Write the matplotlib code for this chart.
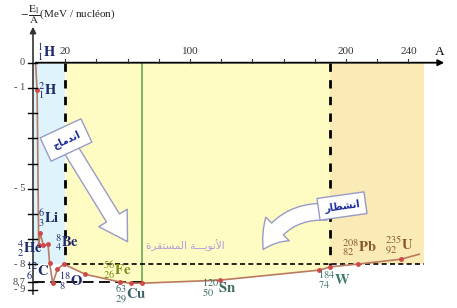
import numpy as np
import matplotlib
matplotlib.use("Agg")
import matplotlib.pyplot as plt
from matplotlib.patches import FancyArrowPatch

plt.rcParams['font.family'] = ['Liberation Serif', 'DejaVu Serif', 'DejaVu Sans']
plt.rcParams['mathtext.fontset'] = 'stix'

# ---- data ----
mass_number = np.array([1, 2, 3, 4, 6, 9, 10, 12, 15, 19, 33, 55, 62, 69, 119, 183, 190, 208, 235, 247])
binding_neg = np.array([0, -1.1, -7.25, -6.77, -7.25, -7.2, -7.95, -8.75, -8.2, -7.99,
                        -8.4, -8.7, -8.75, -8.75, -8.63, -8.23, -8.1, -7.99, -7.8, -7.6])
x_tick_marks = [20, 40, 60, 80, 100, 120, 140, 160, 180, 200, 220, 240]
x_tick_labels = {20: "20", 100: "100", 200: "200", 240: "240"}
y_tick_marks = [0, -1, -2, -3, -4, -5, -6, -7, -8, -8.7, -9]
y_tick_labels = {0: "0", -1: "- 1", -5: "- 5", -8: "- 8", -8.7: "8,7", -9: "- 9"}
nuclides = [  # (mass, charge, symbol)
    (1, 1, "H"), (2, 1, "H"), (6, 3, "Li"), (4, 2, "He"), (8, 4, "Be"), (12, 6, "C"),
    (18, 8, "O"), (56, 26, "Fe"), (63, 29, "Cu"), (120, 50, "Sn"), (184, 74, "W"),
    (208, 82, "Pb"), (235, 92, "U"),
]

W, H = 457, 308
fig = plt.figure(figsize=(W / 100, H / 100), dpi=100)
ax = fig.add_axes([0, 0, 1, 1])
X0, SX = 34.0, 1.56
Y0, SY = 62.7, 25.2
ax.set_xlim(-X0 / SX, (W - X0) / SX)
ax.set_ylim((Y0 - H) / SY, Y0 / SY)
ax.axis('off')


def P(px, py):
    return (px - X0) / SX, (Y0 - py) / SY


# ---- background regions ----
ax.fill_between([0, 20], 0, -8, color='#def3fb', lw=0, zorder=0)
xs = np.concatenate([[20], mass_number[(mass_number > 20) & (mass_number < 190)], [190]])
ys = np.interp(xs, mass_number, binding_neg)
ax.fill_between(xs, 0, ys, color='#fefcc2', lw=0, zorder=0)
ax.fill_between([190, 250], 0, -8, color='#f9eab6', lw=0, zorder=0)

# ---- guide lines ----
ax.plot([20, 20], [0, -8.0], color='black', lw=2, ls=(0, (3, 3)), zorder=2)
ax.plot([190, 190], [0, -8.1], color='black', lw=2, ls=(0, (3, 3)), zorder=2)
ax.plot([69, 69], [0, -8.75], color='#6aa84f', lw=1.2, zorder=2)
ax.plot([20, 250], [-8, -8], color='black', lw=1.2, ls=(0, (3, 2)), zorder=2)
ax.plot([0, 69], [-8.7, -8.7], color='black', lw=1.3, ls=(0, (6, 3)), zorder=2)

# ---- curve ----
ax.plot(mass_number, binding_neg, color='#b97a62', lw=1.2, zorder=4)
ax.plot(mass_number[1:-1], binding_neg[1:-1], 'o', color='#d04a4a', ms=2.5, zorder=5)

# ---- axes with arrows ----
ax.annotate('', xy=P(447, Y0), xytext=P(33, Y0),
            arrowprops=dict(arrowstyle='-|>', color='black', lw=1.3, mutation_scale=9), zorder=6)
ax.annotate('', xy=P(33, 24), xytext=P(33, 297),
            arrowprops=dict(arrowstyle='-|>', color='#333333', lw=1.2, mutation_scale=9), zorder=6)
for a in x_tick_marks:
    ax.plot([a, a], [0, 0.13], color='#333333', lw=0.8, zorder=6)
    if a in x_tick_labels:
        ax.text(a, 0.25, x_tick_labels[a], ha='center', va='bottom', fontsize=8, color='#333333')
for e in y_tick_marks:
    ax.plot([P(28, 0)[0], P(37, 0)[0]], [e, e], color='black', lw=1.0, zorder=6)
    if e in y_tick_labels:
        ax.text(P(25, 0)[0], e, y_tick_labels[e], ha='right', va='center', fontsize=7.5, color='#444444')

ax.text(*P(20, 3), r"$-\,\dfrac{\mathrm{E}_\mathrm{l}}{\mathrm{A}}$(MeV / nucléon)",
        ha='left', va='top', fontsize=8, color='#222222')
ax.text(*P(440, 52), "A", ha='center', va='center', fontsize=9.5, color='black')

# ---- nuclide labels ----
label_pos = {  # pixel anchor (left, centre) and colour
    (1, "H"): (37, 52, '#1f2a6b'), (2, "H"): (38, 91, '#1f2a6b'),
    (6, "Li"): (38, 218, '#1f2a6b'), (4, "He"): (17, 249, '#1f2a6b'),
    (8, "Be"): (55, 243, '#1f2a6b'), (12, "C"): (26, 271, '#1f2a6b'),
    (18, "O"): (59, 281, '#1f2a6b'), (56, "Fe"): (103, 270, '#7a8a1a'),
    (63, "Cu"): (115, 295, '#3a6464'), (120, "Sn"): (202, 288, '#3d6b5a'),
    (184, "W"): (318, 280, '#3d7a66'), (208, "Pb"): (342, 248, '#8b5a2b'),
    (235, "U"): (385, 245, '#8b5a2b'),
}
for m, z, s in nuclides:
    px, py, c = label_pos[(m, s)]
    ax.text(*P(px, py), r"$^{%d}_{%d}\mathbf{%s}$" % (m, z, s), ha='left', va='center',
            fontsize=10.5, color=c, zorder=7)

# ---- arrows and Arabic text ----
fusion = "\uFE9D\uFE8E\uFEE3\uFEAA\uFEE7\uFE8D"
fission = "\uFEAD\uFE8E\uFEC4\uFEB8\uFEE7\uFE8D"
stable = ("\uFE93\uFEAE\uFED8\uFE98\uFEB4\uFEE4\uFEDF\uFE8D" + " " +
          "\uFE94\u0640\u0640\u0640\uFEF3\uFEEE\uFEE7\uFEF7\uFE8D")

arr1 = FancyArrowPatch(P(70, 148), P(129, 244),
                       arrowstyle='simple,head_width=2.4,head_length=2.0,tail_width=1.1',
                       mutation_scale=10, fc='white', ec='#9a9ac8', lw=1, zorder=6)
ax.add_patch(arr1)
ax.text(*P(66, 140), fusion, family=['DejaVu Sans'], fontsize=7, fontweight='bold', color='#1a2a9a',
        rotation=25, ha='center', va='center', zorder=7,
        bbox=dict(boxstyle='square,pad=0.8', fc='white', ec='#9a9ac8', lw=1))

arr2 = FancyArrowPatch(P(330, 212), P(262, 252), connectionstyle='arc3,rad=0.35',
                       arrowstyle='simple,head_width=2.4,head_length=1.8,tail_width=1.2',
                       mutation_scale=10, fc='white', ec='#9a9ac8', lw=1, zorder=6)
ax.add_patch(arr2)
ax.text(*P(342, 206), fission, family=['DejaVu Sans'], fontsize=7, fontweight='bold', color='#1a2a9a',
        rotation=8, ha='center', va='center', zorder=7,
        bbox=dict(boxstyle='square,pad=0.6', fc='white', ec='#9a9ac8', lw=1))

ax.text(*P(185, 245), stable, family=['DejaVu Sans'], fontsize=7.5, color='#b897d8',
        ha='center', va='center', zorder=7)

fig.savefig('out.png', dpi=100)
